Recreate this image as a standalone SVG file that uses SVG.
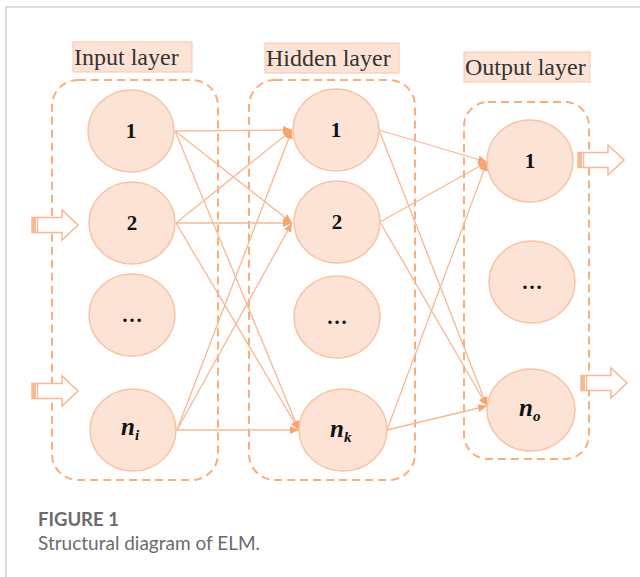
<svg xmlns="http://www.w3.org/2000/svg" width="640" height="577" viewBox="0 0 640 577">
  <style>
    .frame { stroke: #cfcfcf; stroke-width: 1.5; fill: none; }
    .layer-box { fill: none; stroke: #f9ae7c; stroke-width: 2; stroke-dasharray: 8 5; }
    .tag { fill: #fde3d6; stroke: #f9c6a8; stroke-width: 1; }
    .tag-text { font-family: "Liberation Serif", "Times New Roman", serif; font-size: 24px; fill: #333; }
    .node { fill: #fde3d6; stroke: #f9c3a3; stroke-width: 1.5; }
    .num { font-family: "Liberation Serif", "Times New Roman", serif; font-size: 21px; font-weight: bold; fill: #111; text-anchor: middle; }
    .var { font-family: "Liberation Serif", "Times New Roman", serif; font-size: 25px; font-weight: bold; font-style: italic; fill: #111; }
    .sub { font-size: 15px; }
    .link { stroke: #f9b893; stroke-width: 1.3; fill: none; marker-end: url(#tip); }
    .io-arrow { fill: #fff; stroke: #f9b893; stroke-width: 1.5; }
    .stripe { fill: #f9b893; }
    .cap-title { font-family: Lato, "Liberation Sans", sans-serif; font-size: 18.5px; font-weight: bold; fill: #6b6b6b; }
    .cap-text { font-family: Lato, "Liberation Sans", sans-serif; font-size: 19px; fill: #6b6b6b; }
  </style>
  <defs>
    <marker id="tip" markerUnits="userSpaceOnUse" markerWidth="10" markerHeight="10" viewBox="0 0 10 10" refX="9" refY="5" orient="auto">
      <path d="M0,1 L9,5 L0,9 Z" fill="#f9a46e"/>
    </marker>
    <!-- hollow striped block arrow pointing right, origin at left-middle -->
    <g id="io">
      <path class="io-arrow" d="M0,-7.5 H30 V-15 L46,0 L30,15 V7.5 H0 Z"/>
      <rect class="stripe" x="0" y="-7.5" width="4" height="15"/>
      <rect class="stripe" x="5" y="-7.5" width="1.2" height="15"/>
    </g>
  </defs>

  <!-- page frame -->
  <path class="frame" d="M6,577 V7 H640"/>

  <!-- layer containers -->
  <g id="input-layer">
    <rect class="tag" x="73" y="42" width="119" height="30"/>
    <text class="tag-text" x="74" y="65">Input layer</text>
    <rect class="layer-box" x="52" y="80" width="166" height="400" rx="26"/>
  </g>
  <g id="hidden-layer">
    <rect class="tag" x="265" y="43" width="134" height="30"/>
    <text class="tag-text" x="266" y="66">Hidden layer</text>
    <rect class="layer-box" x="249" y="80" width="166" height="400" rx="26"/>
  </g>
  <g id="output-layer">
    <rect class="tag" x="464" y="52" width="126" height="30"/>
    <text class="tag-text" x="465" y="75">Output layer</text>
    <rect class="layer-box" x="464" y="102" width="125" height="357" rx="24"/>
  </g>

  <!-- input/output block arrows -->
  <g id="in-arrows">
    <use href="#io" x="32" y="225"/>
    <use href="#io" x="32" y="391"/>
  </g>
  <g id="out-arrows">
    <use href="#io" x="578" y="160"/>
    <use href="#io" x="581" y="383"/>
  </g>

  <!-- connectors -->
  <g id="connectors">
    <line class="link" x1="175" y1="131" x2="292" y2="130"/>
    <line class="link" x1="175" y1="131" x2="292" y2="223"/>
    <line class="link" x1="175" y1="131" x2="299" y2="430"/>
    <line class="link" x1="176" y1="223" x2="292" y2="130"/>
    <line class="link" x1="176" y1="223" x2="292" y2="223"/>
    <line class="link" x1="176" y1="223" x2="299" y2="430"/>
    <line class="link" x1="177" y1="430" x2="292" y2="130"/>
    <line class="link" x1="177" y1="430" x2="292" y2="223"/>
    <line class="link" x1="177" y1="430" x2="299" y2="430"/>
    <line class="link" x1="379" y1="130" x2="487" y2="162"/>
    <line class="link" x1="379" y1="130" x2="487" y2="406"/>
    <line class="link" x1="380" y1="222" x2="487" y2="162"/>
    <line class="link" x1="380" y1="222" x2="487" y2="406"/>
    <line class="link" x1="387" y1="430" x2="487" y2="162"/>
    <line class="link" x1="387" y1="430" x2="487" y2="406"/>
  </g>

  <!-- input nodes -->
  <g id="in-1"><ellipse class="node" cx="131" cy="131" rx="43" ry="41"/><text class="num" x="131" y="138">1</text></g>
  <g id="in-2"><ellipse class="node" cx="132" cy="223" rx="43" ry="41"/><text class="num" x="132" y="230">2</text></g>
  <g id="in-dots"><ellipse class="node" cx="132" cy="315" rx="43" ry="41"/><text class="num" x="132" y="322">…</text></g>
  <g id="in-n"><ellipse class="node" cx="133" cy="430" rx="43" ry="41"/><text class="var" x="121" y="435">n<tspan class="sub" dy="5">i</tspan></text></g>

  <!-- hidden nodes -->
  <g id="hid-1"><ellipse class="node" cx="336" cy="130" rx="43" ry="41"/><text class="num" x="336" y="137">1</text></g>
  <g id="hid-2"><ellipse class="node" cx="337" cy="222" rx="43" ry="41"/><text class="num" x="337" y="229">2</text></g>
  <g id="hid-dots"><ellipse class="node" cx="337" cy="317" rx="43" ry="41"/><text class="num" x="337" y="324">…</text></g>
  <g id="hid-n"><ellipse class="node" cx="343" cy="430" rx="44" ry="41"/><text class="var" x="330" y="437">n<tspan class="sub" dy="5">k</tspan></text></g>

  <!-- output nodes -->
  <g id="out-1"><ellipse class="node" cx="530" cy="161" rx="43" ry="41"/><text class="num" x="530" y="168">1</text></g>
  <g id="out-dots"><ellipse class="node" cx="532" cy="282" rx="43" ry="41"/><text class="num" x="532" y="289">…</text></g>
  <g id="out-n"><ellipse class="node" cx="531" cy="410" rx="44" ry="41"/><text class="var" x="519" y="416">n<tspan class="sub" dy="5">o</tspan></text></g>

  <!-- caption -->
  <g id="caption">
    <text class="cap-title" x="38" y="526">FIGURE 1</text>
    <text class="cap-text" x="38" y="550">Structural diagram of ELM.</text>
  </g>
</svg>
